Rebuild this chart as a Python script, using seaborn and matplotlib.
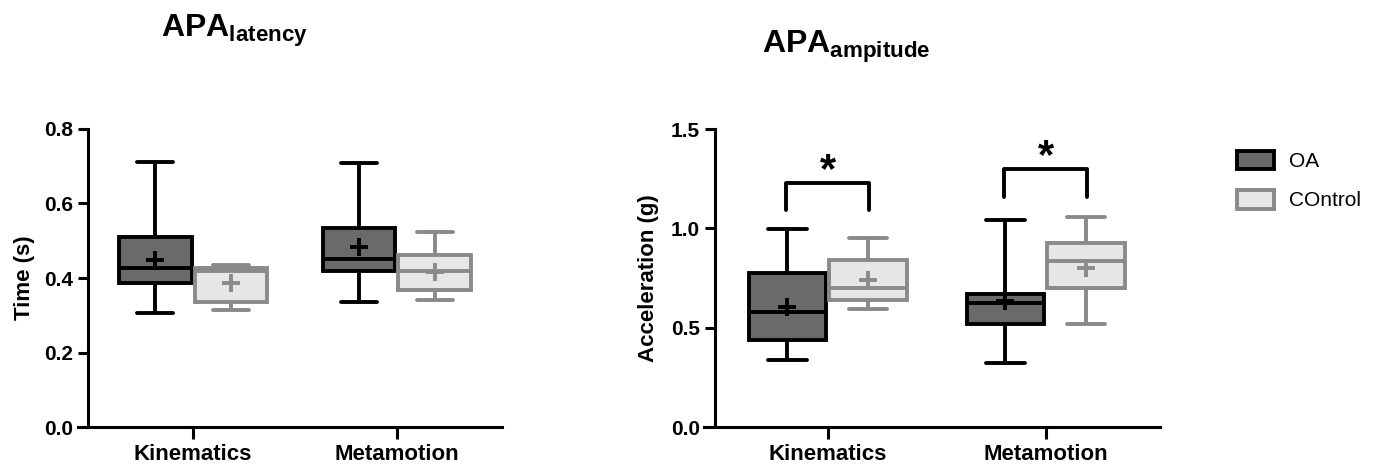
import numpy as np
import pandas as pd
import seaborn as sns
import matplotlib.pyplot as plt
from matplotlib.patches import Patch

tasks = ['Kinematics', 'Metamotion']
groups = ['OA', 'COntrol']

# APA latency (s): min, q1, median, q3, max, mean per task
lat_oa_min = [0.305, 0.336]
lat_oa_q1 = [0.386, 0.419]
lat_oa_med = [0.426, 0.450]
lat_oa_q3 = [0.511, 0.535]
lat_oa_max = [0.711, 0.708]
lat_oa_mean = [0.448, 0.482]

lat_ct_min = [0.314, 0.341]
lat_ct_q1 = [0.336, 0.368]
lat_ct_med = [0.418, 0.420]
lat_ct_q3 = [0.428, 0.462]
lat_ct_max = [0.435, 0.523]
lat_ct_mean = [0.387, 0.417]

# APA amplitude (g)
amp_oa_min = [0.339, 0.322]
amp_oa_q1 = [0.436, 0.520]
amp_oa_med = [0.577, 0.625]
amp_oa_q3 = [0.775, 0.668]
amp_oa_max = [0.997, 1.042]
amp_oa_mean = [0.604, 0.635]

amp_ct_min = [0.594, 0.518]
amp_ct_q1 = [0.637, 0.700]
amp_ct_med = [0.700, 0.835]
amp_ct_q3 = [0.842, 0.928]
amp_ct_max = [0.951, 1.055]
amp_ct_mean = [0.738, 0.800]

# significance brackets on amplitude panel
sig_top = [1.23, 1.30]
sig_leg = [1.09, 1.16]
star_y = [1.29, 1.36]

face = {'OA': '#6a6a6a', 'COntrol': '#e6e6e6'}
edge = {'OA': 'black', 'COntrol': '#8a8a8a'}


def long_df(oa, ct):
    # five-number summaries -> five points per box (quartiles land on q1/q3)
    rows = []
    for g, stats in zip(groups, [oa, ct]):
        for i, t in enumerate(tasks):
            for s in stats:
                rows.append({'task': t, 'group': g, 'value': s[i]})
    return pd.DataFrame(rows)


def mean_df(oa_mean, ct_mean):
    rows = []
    for g, m in zip(groups, [oa_mean, ct_mean]):
        for i, t in enumerate(tasks):
            rows.append({'task': t, 'group': g, 'value': m[i]})
    return pd.DataFrame(rows)


lat_df = long_df([lat_oa_min, lat_oa_q1, lat_oa_med, lat_oa_q3, lat_oa_max],
                 [lat_ct_min, lat_ct_q1, lat_ct_med, lat_ct_q3, lat_ct_max])
amp_df = long_df([amp_oa_min, amp_oa_q1, amp_oa_med, amp_oa_q3, amp_oa_max],
                 [amp_ct_min, amp_ct_q1, amp_ct_med, amp_ct_q3, amp_ct_max])
lat_means = mean_df(lat_oa_mean, lat_ct_mean)
amp_means = mean_df(amp_oa_mean, amp_ct_mean)

sns.set_style('ticks')
plt.rcParams['font.family'] = ['Liberation Sans', 'DejaVu Sans']
plt.rcParams['mathtext.fontset'] = 'custom'
plt.rcParams['mathtext.bf'] = 'Liberation Sans:bold'
plt.rcParams['mathtext.rm'] = 'Liberation Sans'
for k in ['text.color', 'axes.labelcolor', 'xtick.color', 'ytick.color']:
    plt.rcParams[k] = 'black'

fig = plt.figure(figsize=(13.74, 4.69), dpi=100)
ax1 = fig.add_axes([88 / 1374, 1 - 427 / 469, 414 / 1374, 298 / 469])
ax2 = fig.add_axes([715 / 1374, 1 - 427 / 469, 445 / 1374, 298 / 469])


def draw_panel(ax, df, means, xlim):
    sns.boxplot(data=df, x='task', y='value', hue='group',
                order=tasks, hue_order=groups, palette=face,
                linecolor='black', linewidth=2.8, whis=(0, 100),
                width=0.74, gap=0.04, legend=False, ax=ax)
    # control boxes sit right of the category centre -> grey outlines
    for p in ax.patches:
        if np.allclose(p.get_facecolor()[:3], plt.matplotlib.colors.to_rgb(face['COntrol'])):
            p.set_edgecolor(edge['COntrol'])
    for ln in ax.lines:
        xs = np.asarray(ln.get_xdata(), dtype=float)
        if xs.size and xs.mean() - round(xs.mean()) > 0.01:
            ln.set_color(edge['COntrol'])
    sns.pointplot(data=means, x='task', y='value', hue='group',
                  order=tasks, hue_order=groups, palette=edge,
                  markers='+', linestyles='none', dodge=0.37,
                  errorbar=None, markersize=13, markeredgewidth=2.8,
                  legend=False, ax=ax, zorder=5)
    ax.set_xlim(*xlim)
    for sp in ['top', 'right']:
        ax.spines[sp].set_visible(False)
    for sp in ['left', 'bottom']:
        ax.spines[sp].set_linewidth(2.2)
        ax.spines[sp].set_color('black')
    # x axis line runs out past the y axis by one tick length
    ax.spines['bottom'].set_bounds(xlim[0] - 0.05, xlim[1])
    ax.tick_params(axis='y', length=7, width=2.2, labelsize=15, pad=4)
    ax.tick_params(axis='x', length=8.5, width=2.2, labelsize=16, pad=4)
    for lab in ax.get_xticklabels() + ax.get_yticklabels():
        lab.set_fontweight('bold')
    ax.set_xlabel('')


draw_panel(ax1, lat_df, lat_means, (-0.515, 1.515))
ax1.set_ylim(0, 0.8)
ax1.set_yticks([0, 0.2, 0.4, 0.6, 0.8])
ax1.set_yticklabels(['0.0', '0.2', '0.4', '0.6', '0.8'], fontweight='bold')
ax1.set_ylabel('Time (s)', fontsize=16, fontweight='bold', labelpad=6)

draw_panel(ax2, amp_df, amp_means, (-0.517, 1.524))
ax2.set_ylim(0, 1.5)
ax2.set_yticks([0, 0.5, 1.0, 1.5])
ax2.set_yticklabels(['0.0', '0.5', '1.0', '1.5'], fontweight='bold')
ax2.set_ylabel('Acceleration (g)', fontsize=16, fontweight='bold', labelpad=8)

for i in range(len(tasks)):
    ax2.plot([i - 0.19, i - 0.19, i + 0.19, i + 0.19],
             [sig_leg[i], sig_top[i], sig_top[i], sig_leg[i]],
             color='black', lw=2.8, solid_capstyle='round', clip_on=False)
    ax2.text(i, star_y[i], '*', ha='center', va='center', fontsize=30,
             fontweight='bold', clip_on=False)

fig.text(234 / 1374, 1 - 31 / 469, r'$\mathbf{APA}_{\mathbf{latency}}$',
         ha='center', va='center', fontsize=23)
fig.text(846 / 1374, 1 - 47 / 469, r'$\mathbf{APA}_{\mathbf{ampitude}}$',
         ha='center', va='center', fontsize=23)

handles = [Patch(facecolor=face[g], edgecolor=edge[g], linewidth=2.8) for g in groups]
fig.legend(handles, groups, loc='upper left',
           bbox_to_anchor=(1218 / 1374, 1 - 132 / 469), frameon=False,
           fontsize=15, handlelength=1.8, handleheight=1.0,
           handletextpad=0.7, labelspacing=0.9)

fig.savefig('out.png', dpi=100)
